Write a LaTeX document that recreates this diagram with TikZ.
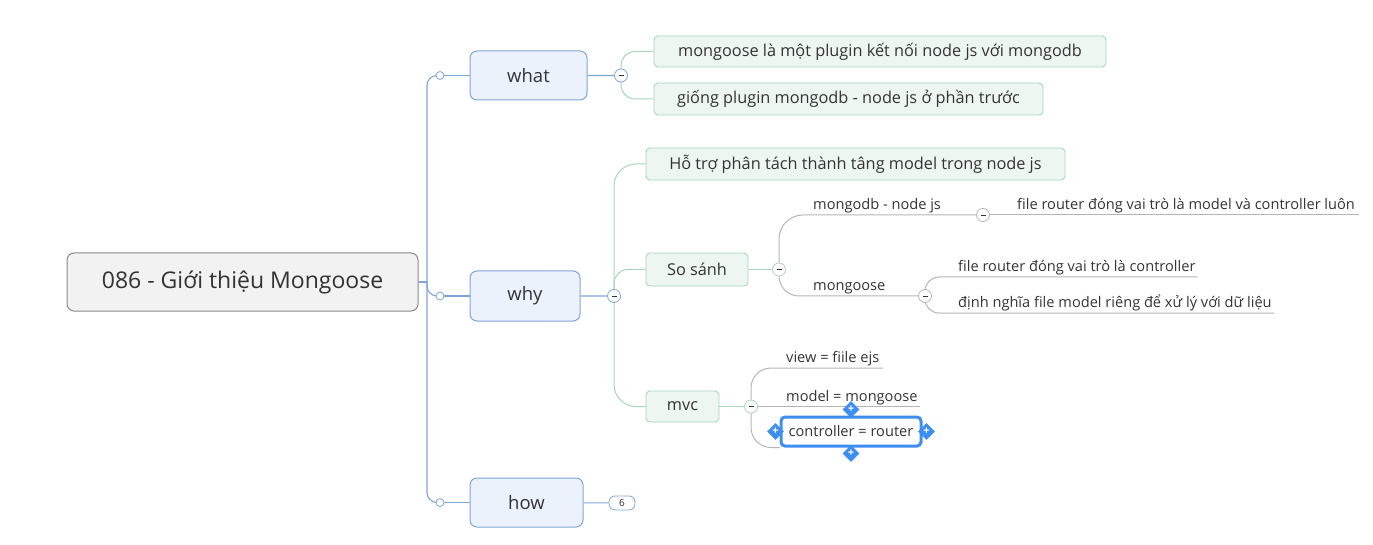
\documentclass[tikz,border=0pt]{standalone}
\usepackage{fontspec}
\setmainfont{Open Sans}[Ligatures=NoCommon]
\usetikzlibrary{positioning, shapes.geometric, backgrounds}
\definecolor{txt}{HTML}{333333}
\definecolor{trunkblue}{HTML}{7FA6D8}
\definecolor{bluefill}{HTML}{EBF2FC}
\definecolor{greenline}{HTML}{A8D5BE}
\definecolor{greenfill}{HTML}{EEF6F2}
\definecolor{grayline}{HTML}{B5B5B5}
\definecolor{rootfill}{HTML}{F2F2F2}
\definecolor{rootline}{HTML}{8A8A8A}
\definecolor{selblue}{HTML}{3D8EF0}

\begin{document}
\begin{tikzpicture}[
            x = 1pt,
            y = -1pt,
            text = txt,
            rootbox/.style = {draw = rootline, fill = rootfill, line width = 1pt,
                              rounded corners = 7pt, font = \fontsize{23}{26}\selectfont},
            topic/.style   = {draw = trunkblue, fill = bluefill, line width = 1pt,
                              rounded corners = 7pt, font = \fontsize{18.5}{22}\selectfont},
            sub/.style     = {draw = greenline, fill = greenfill, line width = 0.9pt,
                              rounded corners = 4pt, font = \fontsize{16.3}{19}\selectfont},
            lbl/.style     = {anchor = south west, inner xsep = 2pt, inner ysep = 1.5pt,
                              font = \fontsize{14.6}{17}\selectfont},
            tdot/.style    = {circle, draw = trunkblue, fill = white, line width = 0.8pt,
                              minimum size = 8pt, inner sep = 0pt},
            fold/.style    = {circle, draw = #1, fill = white, line width = 0.8pt,
                              minimum size = 13pt, inner sep = 0pt},
            trunk/.style   = {draw = trunkblue, line width = 1.1pt},
            twig/.style    = {draw = greenline, line width = 1pt},
            stalk/.style   = {draw = grayline, line width = 1pt},
            grip/.style    = {diamond, fill = selblue, minimum size = 17pt, inner sep = 0pt,
                              text = white, font = \bfseries\fontsize{11}{11}\selectfont}
        ]

        \useasboundingbox (0,0) rectangle (1373,545);

        % main topics
        \node[rootbox, minimum width = 351pt, minimum height = 58pt] (root) at (242.5,282) {086 - Giới thiệu Mongoose};
        \node[topic, minimum width = 117pt, minimum height = 49pt] (what) at (528.5,75.5) {what};
        \node[topic, minimum width = 110pt, minimum height = 50pt] (why)  at (525,296)    {why};
        \node[topic, minimum width = 113pt, minimum height = 49pt] (how)  at (526.5,502.5) {how};

        \coordinate (tr) at (427,282);
        \node[tdot] (wd) at (440,75.5)  {};
        \node[tdot] (yd) at (440,296)   {};
        \node[tdot] (hd) at (440,502.5) {};

        % what
        \node[fold = trunkblue] (wc) at (621,75.5) {\rule{5pt}{0.9pt}};
        \node[sub, minimum width = 452pt, minimum height = 31pt] (m1) at (880,51.5) {mongoose là một plugin kết nối node js với mongodb};
        \node[sub, minimum width = 389pt, minimum height = 32pt] (m2) at (848.5,99) {giống plugin mongodb - node js ở phần trước};

        % why
        \node[fold = trunkblue] (yc) at (614,296) {\rule{5pt}{0.9pt}};
        \node[sub, minimum width = 419pt, minimum height = 32pt] (h1)  at (855.5,164)  {Hỗ trợ phân tách thành tâng model trong node js};
        \node[sub, minimum width = 102pt, minimum height = 33pt] (ss)  at (697,269.5)  {So sánh};
        \node[sub, minimum width = 73pt,  minimum height = 31pt] (mvc) at (682.5,406.5) {mvc};

        \node[fold = greenline] (ssc) at (779,269.5) {\rule{5pt}{0.9pt}};
        \node[lbl] (mdb) at (811,215) {mongodb - node js};
        \node[lbl] (mgs) at (811,296) {mongoose};
        \node[fold = grayline] (mdbc) at (983,215) {\rule{5pt}{0.9pt}};
        \node[fold = grayline] (mgsc) at (925,296) {\rule{5pt}{0.9pt}};
        \node[lbl] (r1) at (1015,215) {file router đóng vai trò là model và controller luôn};
        \node[lbl] (r2) at (956,277)  {file router đóng vai trò là controller};
        \node[lbl] (r3) at (956,313)  {định nghĩa file model riêng để xử lý với dữ liệu};

        \node[fold = greenline] (mvcc) at (751,406.5) {\rule{5pt}{0.9pt}};
        \node[lbl] (v1) at (784,368)   {view = fiile ejs};
        \node[lbl] (v2) at (784,406.5) {model = mongoose};
        \node[draw = selblue, fill = white, line width = 3pt, rounded corners = 4pt,
              minimum width = 140pt, minimum height = 29pt, inner sep = 1pt,
              font = \fontsize{14.6}{17}\selectfont] (ctl) at (851,431.5) {controller = router};
        \node[grip] (gn) at ([yshift = 6pt]ctl.north)  {+};
        \node[grip] (gs) at ([yshift = -6pt]ctl.south) {+};
        \node[grip] (gw) at ([xshift = -4pt]ctl.west)  {+};
        \node[grip] (ge) at ([xshift = 4pt]ctl.east)   {+};

        % how
        \node[draw = trunkblue, fill = white, line width = 0.8pt, rounded corners = 6pt,
              minimum width = 26pt, minimum height = 14pt, inner sep = 0pt,
              font = \fontsize{10}{11}\selectfont] (six) at (622,503) {6};

        % connectors
        \begin{scope}[on background layer]
            \draw[trunk] (root.east) -- (tr);
            \draw[trunk, rounded corners = 10pt] (tr) |- (wd);
            \draw[trunk, rounded corners = 10pt] (tr) |- (yd);
            \draw[trunk, rounded corners = 10pt] (tr) |- (hd);
            \draw[trunk] (wd) -- (what) (yd) -- (why) (hd) -- (how);
            \draw[trunk] (what) -- (wc) (why) -- (yc) (how) -- (six);

            \draw[twig, rounded corners = 14pt] (wc) |- (m1.west);
            \draw[twig, rounded corners = 14pt] (wc) |- (m2.west);
            \draw[twig, rounded corners = 22pt] (yc) |- (h1.west);
            \draw[twig, rounded corners = 14pt] (yc) |- (ss.west);
            \draw[twig, rounded corners = 22pt] (yc) |- (mvc.west);
            \draw[twig] (ss) -- (ssc) (mvc) -- (mvcc);

            \draw[stalk, rounded corners = 24pt] (ssc) |- (mdbc);
            \draw[stalk, rounded corners = 20pt] (ssc) |- (mgsc);
            \draw[stalk] (mdbc) -- ([xshift = 2pt]r1.south east);
            \draw[stalk, rounded corners = 14pt] (mgsc) |- (r2.south east);
            \draw[stalk, rounded corners = 14pt] (mgsc) |- (r3.south east);
            \draw[stalk, rounded corners = 20pt] (mvcc) |- ([xshift = 2pt]v1.south east);
            \draw[stalk] (mvcc) -- (v2.south east);
            \draw[stalk, rounded corners = 20pt] (mvcc) |- (ctl.south west);
        \end{scope}
    \end{tikzpicture}
\end{document}
